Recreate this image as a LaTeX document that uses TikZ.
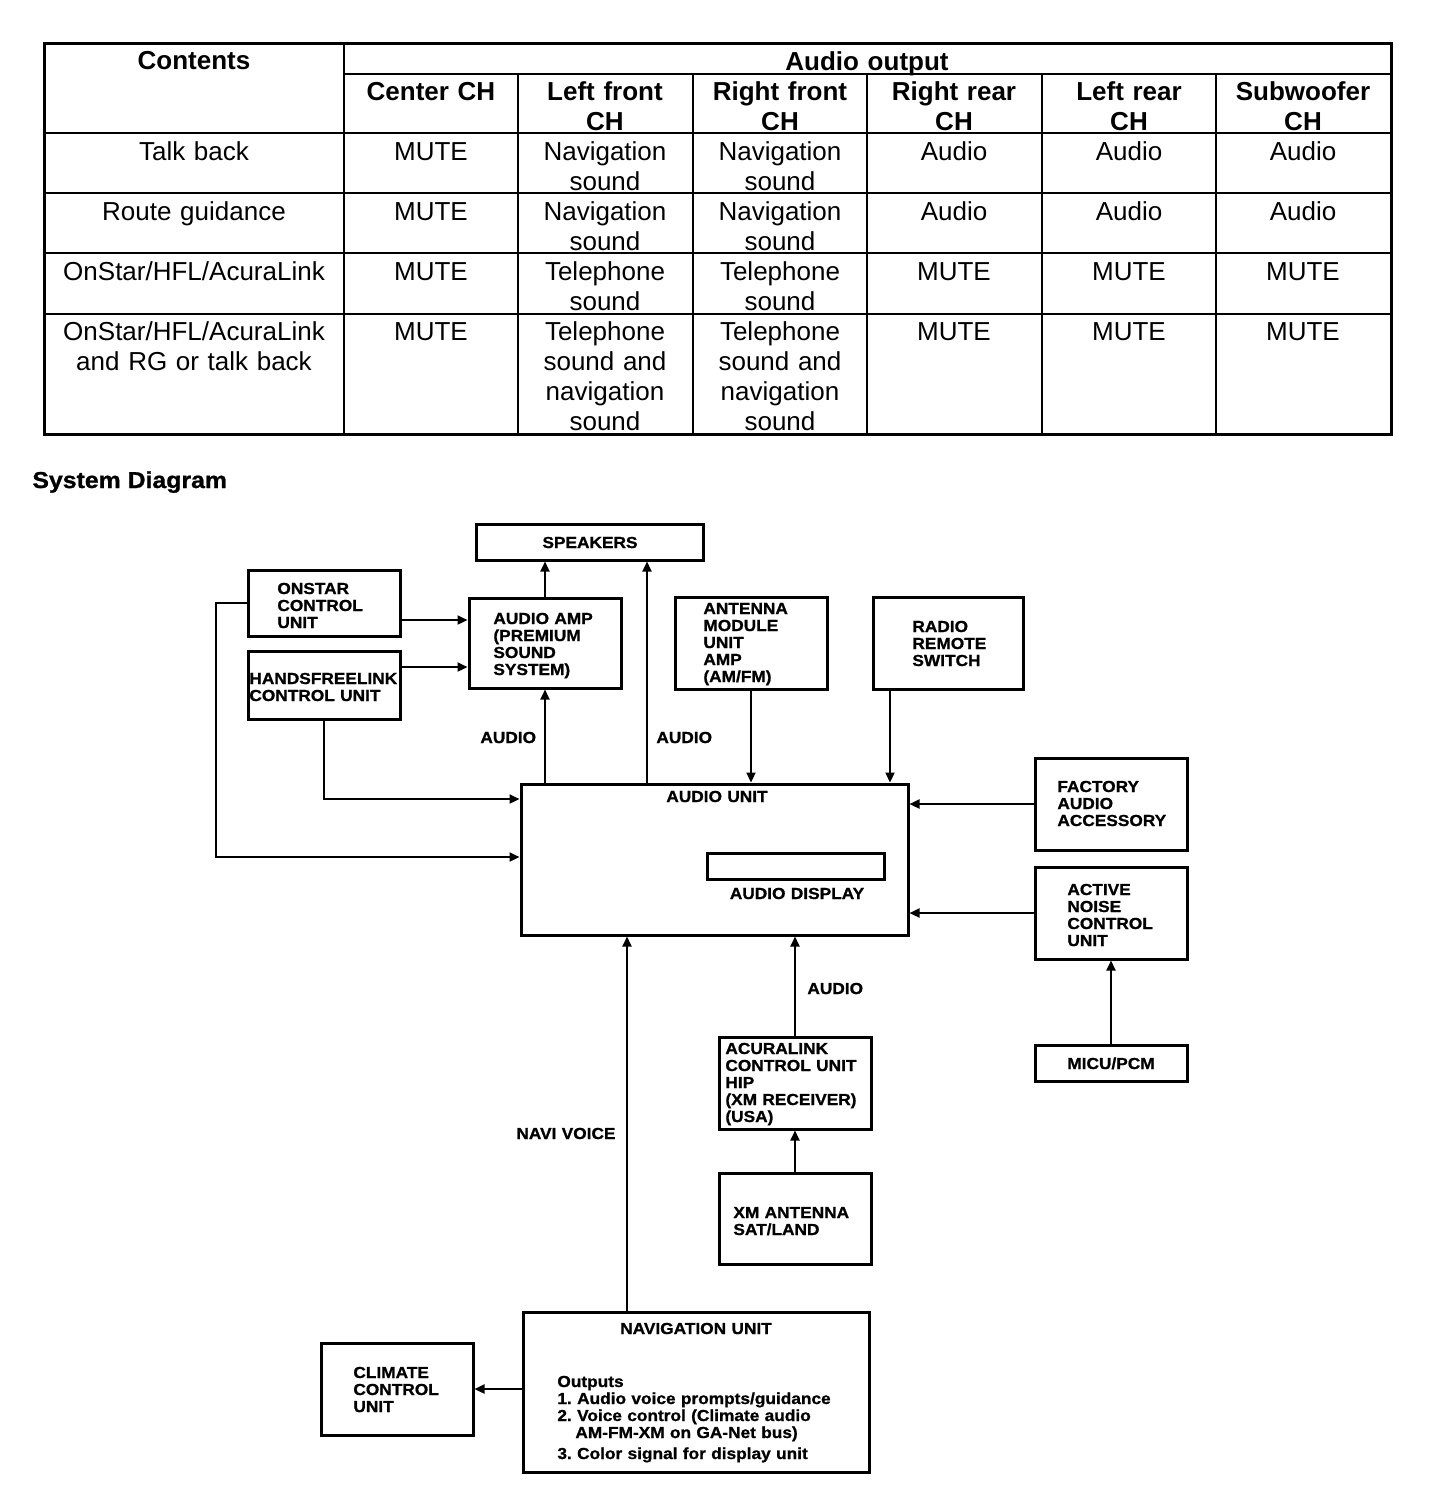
\documentclass[tikz,border=0pt]{standalone}
\usepackage{fontspec}
\setmainfont{Liberation Sans}
\newfontfamily\dfont{Liberation Sans}[FakeStretch=1.08,FakeBold=1]
\frenchspacing
\usetikzlibrary{arrows.meta,fit}
\begin{document}
\begin{tikzpicture}[x=0.5pt,y=-0.5pt,
  tcell/.style={inner sep=0pt, text width=82pt, align=center, anchor=base, font=\fontsize{13}{15}\selectfont},
  thead/.style={tcell, font=\bfseries\fontsize{13}{15}\selectfont},
  box/.style={draw, line width=1.5pt, inner sep=0pt},
  dtext/.style={inner sep=0pt, anchor=base west, text width=95pt, align=left, font=\dfont\bfseries\fontsize{8}{8.5}\selectfont},
  ctext/.style={dtext, anchor=base, align=center},
  conn/.style={line width=1.1pt, -{Triangle[length=5pt,width=4.5pt]}},
  tline/.style={line width=1pt},
]
\useasboundingbox (0,0) rectangle (1440,1496);

% ---------------- table ----------------
\draw[line width=1.5pt] (44,43) rectangle (1391,434);
\draw[tline] (344,43) -- (344,434);
\draw[tline] (344,74) -- (1391,74);
\foreach \x in {518,693,867,1042,1216} \draw[tline] (\x,74) -- (\x,434);
\foreach \y in {133,193,253,314} \draw[tline] (44,\y) -- (1391,\y);

\node[thead, text width=140pt] (hContents) at (194,69) {Contents};
\node[thead, text width=200pt] (hAudio) at (867,70) {Audio output};
\node[thead] (hC) at (431,100) {Center CH};
\node[thead] (hLF) at (605,100) {Left front\\CH};
\node[thead] (hRF) at (780,100) {Right front\\CH};
\node[thead] (hRR) at (954,100) {Right rear\\CH};
\node[thead] (hLR) at (1129,100) {Left rear\\CH};
\node[thead] (hSW) at (1303,100) {Subwoofer\\CH};

\node[tcell, text width=145pt] (r1a) at (194,160) {Talk back};
\node[tcell] (r1b) at (431,160) {MUTE};
\node[tcell] (r1c) at (605,160) {Navigation\\sound};
\node[tcell] (r1d) at (780,160) {Navigation\\sound};
\node[tcell] (r1e) at (954,160) {Audio};
\node[tcell] (r1f) at (1129,160) {Audio};
\node[tcell] (r1g) at (1303,160) {Audio};

\node[tcell, text width=145pt] (r2a) at (194,220) {Route guidance};
\node[tcell] (r2b) at (431,220) {MUTE};
\node[tcell] (r2c) at (605,220) {Navigation\\sound};
\node[tcell] (r2d) at (780,220) {Navigation\\sound};
\node[tcell] (r2e) at (954,220) {Audio};
\node[tcell] (r2f) at (1129,220) {Audio};
\node[tcell] (r2g) at (1303,220) {Audio};

\node[tcell, text width=145pt] (r3a) at (194,280) {OnStar/HFL/AcuraLink};
\node[tcell] (r3b) at (431,280) {MUTE};
\node[tcell] (r3c) at (605,280) {Telephone\\sound};
\node[tcell] (r3d) at (780,280) {Telephone\\sound};
\node[tcell] (r3e) at (954,280) {MUTE};
\node[tcell] (r3f) at (1129,280) {MUTE};
\node[tcell] (r3g) at (1303,280) {MUTE};

\node[tcell, text width=145pt] (r4a) at (194,340) {OnStar/HFL/AcuraLink\\and RG or talk back};
\node[tcell] (r4b) at (431,340) {MUTE};
\node[tcell] (r4c) at (605,340) {Telephone\\sound and\\navigation\\sound};
\node[tcell] (r4d) at (780,340) {Telephone\\sound and\\navigation\\sound};
\node[tcell] (r4e) at (954,340) {MUTE};
\node[tcell] (r4f) at (1129,340) {MUTE};
\node[tcell] (r4g) at (1303,340) {MUTE};

% ---------------- diagram ----------------
\node[inner sep=0pt, anchor=base west, font=\dfont\bfseries\fontsize{11.5}{13}\selectfont] (title) at (32,488) {System Diagram};

\node[box, fit={(476,524) (703,560)}] (speakers) {};
\node[box, fit={(248,570) (400,636)}] (onstar) {};
\node[box, fit={(248,651) (400,719)}] (hfl) {};
\node[box, fit={(469,598) (621,688)}] (amp) {};
\node[box, fit={(675,597) (827,689)}] (antenna) {};
\node[box, fit={(873,597) (1023,689)}] (radio) {};
\node[box, fit={(521,784) (908,935)}] (audio) {};
\node[box, fit={(707,853) (884,879)}] (display) {};
\node[box, fit={(1035,758) (1187,850)}] (factory) {};
\node[box, fit={(1035,867) (1187,959)}] (anc) {};
\node[box, fit={(1035,1045) (1187,1081)}] (micu) {};
\node[box, fit={(719,1037) (871,1129)}] (acura) {};
\node[box, fit={(719,1173) (871,1264)}] (xm) {};
\node[box, fit={(523,1312) (869,1472)}] (nav) {};
\node[box, fit={(321,1343) (473,1435)}] (climate) {};

\node[ctext] (speakersT) at (590,548) {SPEAKERS};
\node[dtext] (onstarT) at (277,594) {ONSTAR\\CONTROL\\UNIT};
\node[dtext] (hflT) at (249,684) {HANDSFREELINK\\CONTROL UNIT};
\node[dtext] (ampT) at (493,624) {AUDIO AMP\\(PREMIUM\\SOUND\\SYSTEM)};
\node[dtext] (antennaT) at (703,614) {ANTENNA\\MODULE\\UNIT\\AMP\\(AM/FM)};
\node[dtext] (radioT) at (912,632) {RADIO\\REMOTE\\SWITCH};
\node[ctext] (audioT) at (717,802) {AUDIO UNIT};
\node[ctext] (displayT) at (797,899) {AUDIO DISPLAY};
\node[dtext] (factoryT) at (1057,792) {FACTORY\\AUDIO\\ACCESSORY};
\node[dtext] (ancT) at (1067,895) {ACTIVE\\NOISE\\CONTROL\\UNIT};
\node[ctext] (micuT) at (1111,1069) {MICU/PCM};
\node[dtext] (acuraT) at (725,1054) {ACURALINK\\CONTROL UNIT\\HIP\\(XM RECEIVER)\\(USA)};
\node[dtext] (xmT) at (733,1218) {XM ANTENNA\\SAT/LAND};
\node[ctext] (navT) at (696,1334) {NAVIGATION UNIT};
\node[dtext, text width=175pt] (navO) at (557,1387) {Outputs\\1. Audio voice prompts/guidance\\2. Voice control (Climate audio\\\hspace*{9pt}AM-FM-XM on GA-Net bus)\\[2pt]3. Color signal for display unit};
\node[dtext] (climateT) at (353,1378) {CLIMATE\\CONTROL\\UNIT};

\node[dtext] (lblA1) at (480,743) {AUDIO};
\node[dtext] (lblA2) at (656,743) {AUDIO};
\node[dtext] (lblA3) at (807,994) {AUDIO};
\node[dtext] (lblNV) at (516,1139) {NAVI VOICE};

% helper coordinates
\coordinate (x647) at (647,0);
\coordinate (x890) at (890,0);
\coordinate (x627) at (627,0);
\coordinate (y620) at (0,620);
\coordinate (y667) at (0,667);
\coordinate (y603) at (0,603);
\coordinate (y799) at (0,799);
\coordinate (y857) at (0,857);
\coordinate (x216) at (216,0);
\coordinate (x324) at (324,0);

% connectors
\draw[conn] (amp.north) -- (speakers.south -| amp.north);
\draw[conn] (audio.north -| amp.south) -- (amp.south);
\draw[conn] (audio.north -| x647) -- (speakers.south -| x647);
\draw[conn] (onstar.east |- y620) -- (amp.west |- y620);
\draw[conn] (hfl.east |- y667) -- (amp.west |- y667);
\draw[conn] (onstar.west |- y603) -- (x216 |- y603) -- (x216 |- y857) -- (audio.west |- y857);
\draw[conn] (hfl.south -| x324) -- (x324 |- y799) -- (audio.west |- y799);
\draw[conn] (antenna.south) -- (audio.north -| antenna.south);
\draw[conn] (radio.south -| x890) -- (audio.north -| x890);
\draw[conn] (factory.west) -- (audio.east |- factory.west);
\draw[conn] (anc.west) -- (audio.east |- anc.west);
\draw[conn] (micu.north) -- (anc.south);
\draw[conn] (acura.north) -- (audio.south -| acura.north);
\draw[conn] (xm.north) -- (acura.south);
\draw[conn] (nav.north -| x627) -- (audio.south -| x627);
\draw[conn] (nav.west |- climate.east) -- (climate.east);
\end{tikzpicture}
\end{document}
